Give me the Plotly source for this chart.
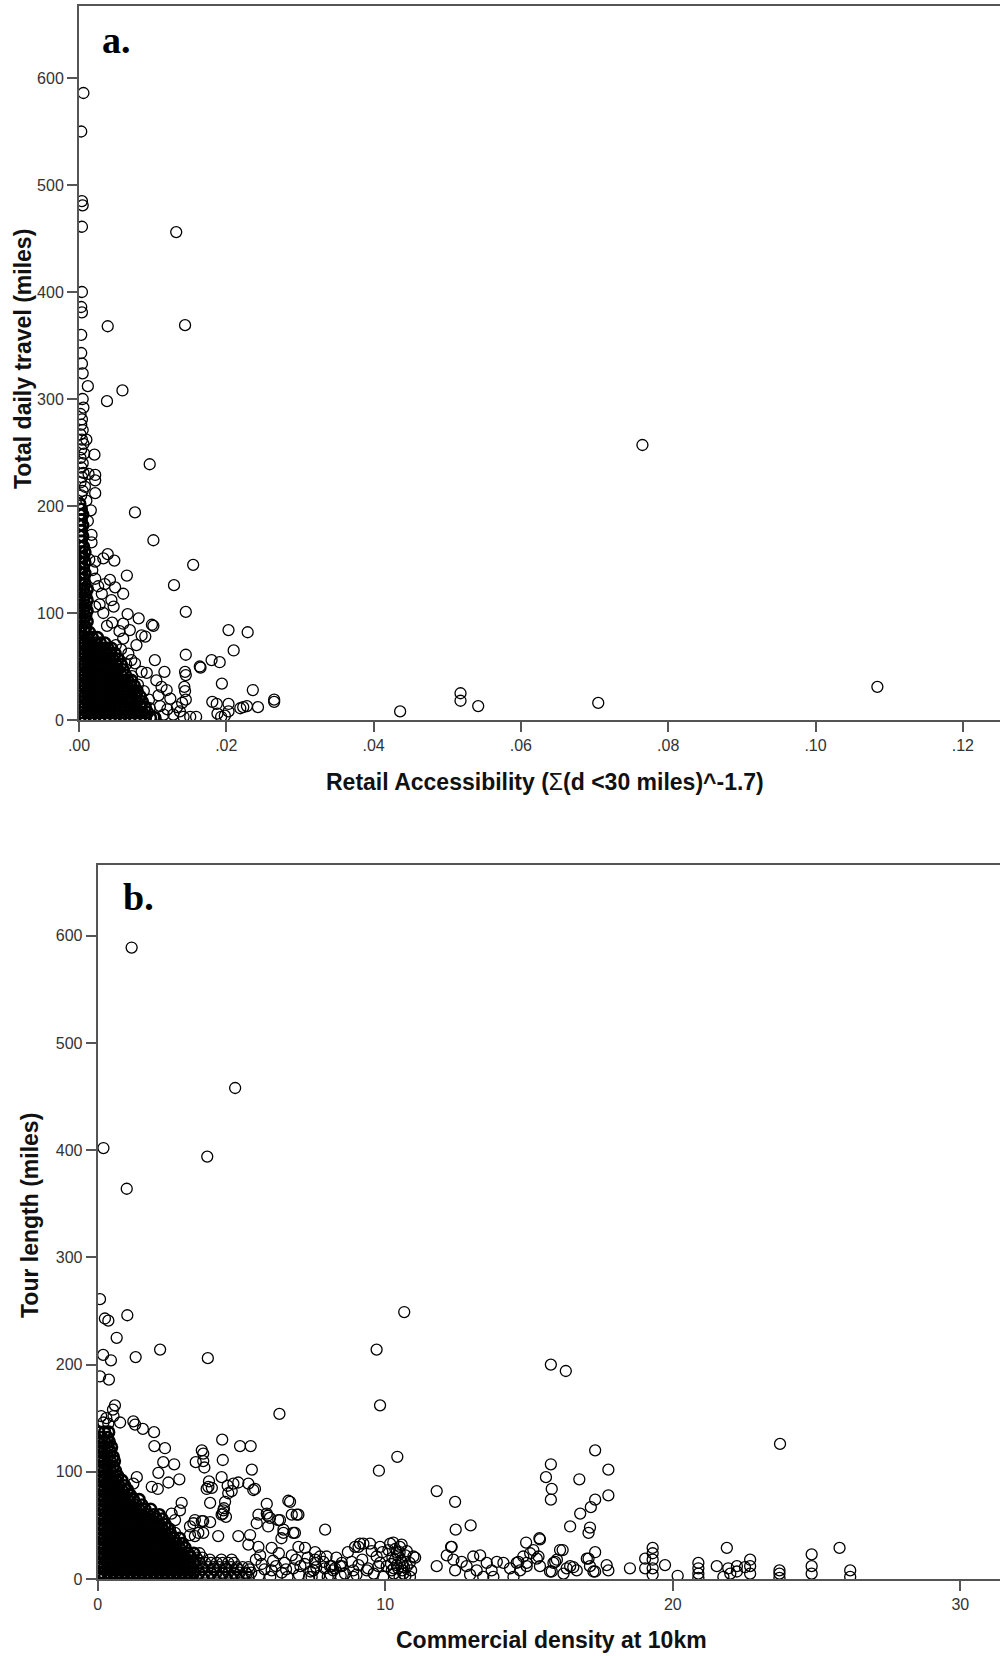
import plotly.graph_objects as go

W, H = 1000, 1656

# ---------------- Panel a data: (Retail accessibility, total daily travel miles) ----------------
a_points = [
    (0.0006, 586), (0.0003, 550), (0.0004, 485), (0.0005, 481), (0.0004, 461), (0.0132, 456),
    (0.0004, 400), (0.0003, 386), (0.0004, 381), (0.0039, 368), (0.0144, 369), (0.0003, 360),
    (0.0003, 343), (0.0004, 333), (0.0005, 324), (0.0012, 312), (0.0059, 308), (0.0038, 298),
    (0.0005, 300), (0.0006, 292), (0.0002, 286), (0.0004, 281), (0.0003, 276), (0.0005, 271),
    (0.0002, 267), (0.0004, 262), (0.0006, 258), (0.0003, 253), (0.0007, 249), (0.0002, 245),
    (0.0005, 240), (0.0003, 236), (0.0006, 231), (0.0004, 227), (0.0002, 222), (0.0008, 218),
    (0.0005, 214), (0.0003, 210), (0.0021, 248), (0.0096, 239), (0.0022, 229), (0.0022, 224),
    (0.0022, 212), (0.0076, 194), (0.0101, 168), (0.0017, 173), (0.0017, 166), (0.0155, 145),
    (0.0039, 155), (0.0033, 151), (0.0048, 149), (0.0065, 135), (0.0129, 126), (0.0145, 101),
    (0.0022, 132), (0.0042, 131), (0.0049, 124), (0.0031, 118), (0.0060, 118), (0.0044, 112),
    (0.0022, 106), (0.0047, 106), (0.0033, 100), (0.0066, 99), (0.0081, 95), (0.0060, 90),
    (0.0038, 88), (0.0101, 88), (0.0099, 89), (0.0069, 84), (0.0090, 78), (0.0085, 79),
    (0.0078, 70), (0.0067, 62), (0.0076, 53), (0.0103, 56), (0.0092, 44), (0.0105, 37),
    (0.0119, 28), (0.0124, 20), (0.0108, 23), (0.0133, 12), (0.0096, 11), (0.0115, 5),
    (0.0128, 5), (0.0101, 3), (0.0203, 84), (0.0229, 82), (0.0210, 65), (0.0145, 61),
    (0.0180, 56), (0.0191, 54), (0.0164, 50), (0.0165, 49), (0.0144, 45), (0.0145, 42),
    (0.0143, 31), (0.0144, 27), (0.0145, 19), (0.0116, 45), (0.0194, 34), (0.0236, 28),
    (0.0265, 19), (0.0265, 17), (0.0243, 12), (0.0223, 12), (0.0228, 13), (0.0219, 11),
    (0.0203, 15), (0.0203, 8), (0.0198, 4), (0.0193, 3), (0.0188, 6), (0.0187, 15),
    (0.0181, 17), (0.0159, 3), (0.0151, 3), (0.0142, 3),
    (0.0436, 8), (0.0518, 25), (0.0518, 18), (0.0542, 13), (0.0705, 16), (0.0765, 257), (0.1084, 31),
    (0.0050, 70), (0.0057, 66), (0.0064, 52), (0.0072, 41), (0.0080, 33), (0.0088, 27),
    (0.0095, 19), (0.0110, 13), (0.0112, 31), (0.0120, 10), (0.0137, 8), (0.0140, 16),
    (0.0085, 45), (0.0071, 56), (0.0060, 76), (0.0055, 83), (0.0045, 91), (0.0028, 108),
    (0.0026, 125), (0.0035, 127), (0.0018, 140), (0.0014, 150), (0.0012, 186), (0.0016, 196),
    (0.0010, 205), (0.0013, 230), (0.0010, 262), (0.0022, 148),
]

# dense cloud of panel a, row by row: (miles, [accessibility values])
a_cloud_rows = [
    (2, [0.0001, 0.0008, 0.0015, 0.0021, 0.0028, 0.0035, 0.0042, 0.0049, 0.0056, 0.0062, 0.0069, 0.0076, 0.0083, 0.0090, 0.0097, 0.0103]),
    (7, [0.0004, 0.0011, 0.0018, 0.0025, 0.0031, 0.0038, 0.0045, 0.0052, 0.0059, 0.0066, 0.0073, 0.0080, 0.0086, 0.0093]),
    (12, [0.0001, 0.0008, 0.0014, 0.0021, 0.0028, 0.0035, 0.0042, 0.0049, 0.0055, 0.0062, 0.0069, 0.0076, 0.0083, 0.0090]),
    (17, [0.0004, 0.0011, 0.0018, 0.0024, 0.0031, 0.0038, 0.0045, 0.0052, 0.0059, 0.0066, 0.0072, 0.0079, 0.0086]),
    (22, [0.0001, 0.0008, 0.0015, 0.0022, 0.0028, 0.0035, 0.0042, 0.0049, 0.0056, 0.0063, 0.0070, 0.0077, 0.0083]),
    (27, [0.0004, 0.0011, 0.0018, 0.0025, 0.0032, 0.0039, 0.0046, 0.0052, 0.0059, 0.0066, 0.0073, 0.0079]),
    (32, [0.0001, 0.0008, 0.0015, 0.0022, 0.0029, 0.0036, 0.0042, 0.0049, 0.0056, 0.0063, 0.0070, 0.0075]),
    (37, [0.0004, 0.0011, 0.0018, 0.0025, 0.0032, 0.0039, 0.0046, 0.0053, 0.0060, 0.0066, 0.0071]),
    (42, [0.0001, 0.0008, 0.0015, 0.0022, 0.0029, 0.0036, 0.0043, 0.0050, 0.0057, 0.0063]),
    (47, [0.0004, 0.0011, 0.0018, 0.0025, 0.0032, 0.0039, 0.0046, 0.0053, 0.0060]),
    (52, [0.0001, 0.0008, 0.0015, 0.0022, 0.0029, 0.0036, 0.0043, 0.0050, 0.0057]),
    (57, [0.0004, 0.0011, 0.0018, 0.0025, 0.0032, 0.0039, 0.0046, 0.0053]),
    (62, [0.0001, 0.0008, 0.0015, 0.0022, 0.0029, 0.0036, 0.0043, 0.0049]),
    (67, [0.0004, 0.0011, 0.0018, 0.0025, 0.0032, 0.0039, 0.0044]),
    (72, [0.0001, 0.0008, 0.0015, 0.0022, 0.0029, 0.0035]),
    (77, [0.0004, 0.0011, 0.0018, 0.0025]),
    (82, [0.0001, 0.0008, 0.0014]),
    (87, [0.0003, 0.0009]),
    (92, [0.0001, 0.0006, 0.0011]),
    (97, [0.0003, 0.0009]),
    (102, [0.0001, 0.0006, 0.0011]),
    (107, [0.0003, 0.0009]),
    (112, [0.0001, 0.0006, 0.0011]),
    (117, [0.0003, 0.0009]),
    (122, [0.0001, 0.0006, 0.0011]),
    (127, [0.0003, 0.0008]),
    (132, [0.0001, 0.0006]),
    (137, [0.0003, 0.0008]),
    (142, [0.0001, 0.0006]),
    (147, [0.0003, 0.0008]),
    (152, [0.0001, 0.0006]),
    (157, [0.0003, 0.0008]),
    (162, [0.0001, 0.0006]),
    (167, [0.0003]),
    (172, [0.0001, 0.0005]),
    (177, [0.0003]),
    (182, [0.0001, 0.0005]),
    (187, [0.0003]),
    (192, [0.0001, 0.0005]),
    (197, [0.0003]),
    (202, [0.0001]),
]

# ---------------- Panel b data: (commercial density at 10km, tour length miles) ----------------
b_points = [
    (1.18, 589), (4.78, 458), (0.20, 402), (3.81, 394), (1.01, 364), (0.08, 261), (1.03, 246),
    (10.66, 249), (0.25, 243), (0.37, 241), (0.66, 225), (0.19, 209), (0.46, 204), (1.32, 207),
    (2.17, 214), (3.83, 206), (9.70, 214), (0.08, 189), (0.39, 186), (9.82, 162), (0.60, 162),
    (0.53, 158), (6.32, 154), (9.78, 101), (15.76, 200), (16.28, 194), (23.73, 126), (10.42, 114),
    (11.79, 82), (12.43, 72), (12.45, 46), (12.97, 50), (15.76, 107), (15.59, 95), (15.79, 84),
    (15.76, 74), (16.75, 93), (17.30, 120), (17.76, 102), (17.76, 78), (17.30, 74), (17.15, 67),
    (16.78, 61), (16.43, 49), (17.12, 48), (17.07, 43), (7.91, 46),
    (0.37, 145), (0.78, 146), (1.24, 147), (1.30, 144), (1.57, 140), (1.96, 137), (1.97, 124),
    (2.34, 122), (2.66, 107), (2.28, 109), (2.84, 93), (4.33, 130), (4.35, 111), (4.95, 124),
    (5.32, 124), (5.36, 102), (3.62, 120), (3.67, 110), (3.41, 109), (3.71, 104), (3.67, 117),
    (2.11, 99), (2.46, 90), (2.09, 84), (1.88, 86), (1.36, 95), (1.24, 89),
    (3.87, 91), (3.97, 85), (3.79, 84), (4.31, 95), (4.52, 87), (4.66, 82), (4.89, 90),
    (5.24, 89), (5.47, 84), (4.54, 80), (4.72, 89), (5.41, 83), (3.85, 86),
    (2.92, 71), (2.86, 64), (2.57, 61), (2.69, 55), (2.51, 47), (2.69, 43),
    (3.91, 71), (4.43, 72), (4.37, 64), (4.31, 60), (4.46, 58), (4.39, 66), (4.35, 61),
    (3.33, 52), (3.67, 54), (3.50, 43), (3.21, 41),
    (5.88, 70), (5.59, 60), (5.91, 59), (5.93, 49), (6.28, 55), (6.63, 73), (6.75, 60),
    (6.92, 60), (6.46, 46), (6.80, 43), (6.39, 38), (6.69, 72), (6.98, 60), (5.88, 61),
    (5.99, 57), (5.53, 52), (6.34, 55), (6.46, 43), (6.86, 43),
    (3.38, 55), (3.21, 49), (3.62, 54), (3.91, 53), (4.19, 40), (3.38, 40), (3.67, 43),
    (4.89, 40), (5.30, 41), (5.24, 32), (5.59, 30), (6.05, 29),
    (6.98, 30), (7.21, 29), (7.56, 25), (7.96, 21), (8.14, 12), (7.56, 15),
    (8.49, 12), (8.83, 16), (9.07, 30), (9.24, 33), (9.47, 33), (9.53, 26), (9.70, 21),
    (9.76, 12), (9.82, 30), (9.07, 13), (8.89, 8),
    (8.95, 30), (9.12, 33), (10.17, 33), (10.51, 30), (10.11, 27), (10.34, 18), (10.75, 12),
    (10.98, 21), (9.82, 15), (10.23, 8), (10.63, 5), (10.86, 2), (9.36, 8), (8.89, 2),
    (9.93, 2), (8.43, 12), (8.19, 8), (8.49, 15), (8.08, 12), (7.73, 21), (7.56, 18),
    (7.50, 8), (7.44, 2), (10.28, 34), (10.57, 32), (11.04, 20), (10.40, 25), (10.60, 15),
    (10.45, 10), (10.30, 5), (10.70, 22), (10.90, 8), (10.20, 14), (10.50, 2),
    (10.35, 28), (10.45, 22), (10.55, 17), (10.65, 11), (10.75, 26), (10.25, 20), (10.85, 15),
    (10.40, 13), (10.60, 8), (10.50, 25), (10.30, 10), (10.70, 3),
    (12.29, 30), (12.14, 22), (11.79, 12), (12.31, 30), (12.37, 18), (12.43, 8), (12.66, 16),
    (12.83, 12), (13.06, 21), (13.30, 22), (13.18, 8), (13.53, 15), (13.70, 8), (13.88, 16),
    (12.95, 4), (13.41, 2), (13.76, 2),
    (14.90, 34), (15.38, 37), (16.17, 27), (17.30, 25), (14.11, 15), (14.34, 10), (14.63, 16),
    (14.69, 8), (14.80, 21), (14.92, 12), (15.04, 24), (15.15, 27), (15.27, 19), (15.36, 38),
    (15.38, 12), (15.73, 7), (15.85, 15), (15.97, 18), (16.08, 27), (16.20, 5), (16.31, 10),
    (16.43, 12), (16.66, 8), (17.07, 19), (17.12, 12), (17.30, 7), (17.70, 13), (17.76, 8),
    (18.51, 10), (14.46, 2), (14.57, 15), (15.91, 16), (15.79, 7), (16.54, 11), (17.01, 19),
    (17.24, 7), (15.33, 21), (14.92, 15),
    (19.30, 29), (19.30, 24), (19.30, 18), (19.30, 10), (19.30, 4), (19.04, 19), (19.04, 10),
    (19.73, 13), (20.17, 3), (20.89, 15), (20.89, 10), (20.89, 5), (20.89, 1), (21.53, 12),
    (21.88, 29), (21.93, 10), (22.00, 5), (21.76, 2), (22.23, 7), (22.23, 12), (22.69, 18),
    (22.69, 12), (22.69, 5), (22.51, 11), (23.71, 8), (23.71, 5), (23.71, 1), (24.83, 23),
    (24.83, 12), (24.83, 5), (25.80, 29), (26.17, 8), (26.17, 2),
    (0.12, 152), (0.20, 146), (0.30, 150), (0.55, 152),
    (5.60, 3), (5.80, 9), (6.00, 2), (6.20, 12), (6.40, 6), (6.60, 2), (6.80, 10), (7.00, 4),
    (7.20, 14), (7.40, 7), (7.70, 3), (7.90, 10), (5.70, 14), (6.10, 17), (6.50, 15), (6.90, 18),
    (7.30, 20), (5.50, 18), (8.10, 4), (8.30, 20), (8.60, 5), (8.70, 25), (9.00, 4), (9.20, 18),
    (9.40, 10), (9.60, 5), (9.90, 25), (10.05, 12),
    (5.65, 22), (6.05, 8), (6.30, 24), (6.55, 9), (6.75, 22), (7.05, 12), (7.35, 2), (7.60, 11),
    (7.85, 16), (8.00, 2), (8.25, 10), (8.45, 3),
]

# dense low band of panel b beyond the solid cloud (3.4 to 5.4), row by row
b_band_rows = [
    (2, [3.44, 3.64, 3.84, 4.04, 4.24, 4.44, 4.64, 4.84, 5.04, 5.24]),
    (5, [3.52, 3.95, 4.36, 4.78, 5.18]),
    (6, [3.54, 3.74, 3.94, 4.14, 4.34, 4.54, 4.74, 4.94, 5.14, 5.34]),
    (9, [3.62, 4.05, 4.47, 4.88, 5.28]),
    (11, [3.44, 3.64, 3.84, 4.04, 4.24, 4.44, 4.64, 4.84, 5.04, 5.24]),
    (15, [3.54, 3.74, 3.94, 4.14, 4.34, 4.54, 4.74]),
    (18, [3.48, 3.90, 4.30, 4.66]),
    (20, [3.44, 3.64]),
    (24, [3.54]),
]

# solid cloud of panel b, row by row: (miles, [density values])
b_cloud_rows = [
    (2, [0.04, 0.24, 0.44, 0.64, 0.84, 1.04, 1.24, 1.44, 1.64, 1.84, 2.04, 2.24, 2.44, 2.64, 2.84, 3.04, 3.24]),
    (6, [0.14, 0.34, 0.54, 0.74, 0.94, 1.14, 1.34, 1.54, 1.74, 1.94, 2.14, 2.34, 2.54, 2.74, 2.94, 3.14, 3.34]),
    (11, [0.04, 0.24, 0.44, 0.64, 0.84, 1.04, 1.24, 1.44, 1.64, 1.84, 2.04, 2.24, 2.44, 2.64, 2.84, 3.04, 3.24]),
    (15, [0.14, 0.34, 0.54, 0.74, 0.94, 1.14, 1.34, 1.54, 1.74, 1.94, 2.14, 2.34, 2.54, 2.74, 2.94, 3.14, 3.34]),
    (20, [0.04, 0.24, 0.44, 0.64, 0.84, 1.04, 1.24, 1.44, 1.64, 1.84, 2.04, 2.24, 2.44, 2.64, 2.84, 3.04, 3.24]),
    (24, [0.14, 0.34, 0.54, 0.74, 0.94, 1.14, 1.34, 1.54, 1.74, 1.94, 2.14, 2.34, 2.54, 2.74, 2.94, 3.14, 3.34]),
    (29, [0.04, 0.24, 0.44, 0.64, 0.84, 1.04, 1.24, 1.44, 1.64, 1.84, 2.04, 2.24, 2.44, 2.64, 2.84, 3.04]),
    (33, [0.14, 0.34, 0.54, 0.74, 0.94, 1.14, 1.34, 1.54, 1.74, 1.94, 2.14, 2.34, 2.54, 2.74, 2.94]),
    (38, [0.04, 0.24, 0.44, 0.64, 0.84, 1.04, 1.24, 1.44, 1.64, 1.84, 2.04, 2.24, 2.44, 2.64, 2.84]),
    (42, [0.14, 0.34, 0.54, 0.74, 0.94, 1.14, 1.34, 1.54, 1.74, 1.94, 2.14, 2.34, 2.54]),
    (47, [0.04, 0.24, 0.44, 0.64, 0.84, 1.04, 1.24, 1.44, 1.64, 1.84, 2.04, 2.24, 2.44]),
    (51, [0.14, 0.34, 0.54, 0.74, 0.94, 1.14, 1.34, 1.54, 1.74, 1.94, 2.14, 2.34]),
    (56, [0.04, 0.24, 0.44, 0.64, 0.84, 1.04, 1.24, 1.44, 1.64, 1.84, 2.04, 2.24]),
    (60, [0.14, 0.34, 0.54, 0.74, 0.94, 1.14, 1.34, 1.54, 1.74, 1.94, 2.14]),
    (65, [0.04, 0.24, 0.44, 0.64, 0.84, 1.04, 1.24, 1.44, 1.64, 1.84]),
    (69, [0.14, 0.34, 0.54, 0.74, 0.94, 1.14, 1.34, 1.54]),
    (74, [0.04, 0.24, 0.44, 0.64, 0.84, 1.04, 1.24, 1.44]),
    (78, [0.14, 0.34, 0.54, 0.74, 0.94, 1.14]),
    (83, [0.04, 0.24, 0.44, 0.64, 0.84, 1.04]),
    (87, [0.14, 0.34, 0.54, 0.74, 0.94]),
    (92, [0.04, 0.24, 0.44, 0.64, 0.84]),
    (96, [0.14, 0.34, 0.54, 0.70]),
    (101, [0.04, 0.24, 0.44, 0.62]),
    (105, [0.14, 0.34, 0.54]),
    (110, [0.04, 0.24, 0.44, 0.58]),
    (114, [0.14, 0.34, 0.54]),
    (119, [0.04, 0.24, 0.44]),
    (123, [0.14, 0.34, 0.48]),
    (128, [0.04, 0.24, 0.40]),
    (132, [0.14, 0.34]),
    (137, [0.04, 0.24, 0.38]),
]

a_xticks = [0.0, 0.02, 0.04, 0.06, 0.08, 0.10, 0.12]
a_xticklabels = [".00", ".02", ".04", ".06", ".08", ".10", ".12"]
b_xticks = [0, 10, 20, 30]
y_ticks = [0, 100, 200, 300, 400, 500, 600]


def split(points):
    return [p[0] for p in points], [p[1] for p in points]


def unroll(rows):
    xs, ys = [], []
    for yv, xrow in rows:
        for xv in xrow:
            xs.append(xv)
            ys.append(yv)
    return xs, ys


ax, ay = split(a_points)
acx, acy = unroll(a_cloud_rows)
bx, by = split(b_points)
bbx, bby = unroll(b_band_rows)
bcx, bcy = unroll(b_cloud_rows)

ring = dict(symbol="circle-open", size=11, color="black", line=dict(width=1.3, color="black"))
ring_dense = dict(symbol="circle-open", size=11, color="black", line=dict(width=2.6, color="black"))

fig = go.Figure()
for xs, ys, mk, xa, ya in [
    (acx, acy, ring_dense, "x", "y"),
    (ax, ay, ring, "x", "y"),
    (bcx, bcy, ring_dense, "x2", "y2"),
    (bbx, bby, ring, "x2", "y2"),
    (bx, by, ring, "x2", "y2"),
]:
    fig.add_trace(go.Scatter(x=xs, y=ys, mode="markers", marker=mk, xaxis=xa, yaxis=ya,
                             cliponaxis=True, hoverinfo="skip"))

AX_COL = "#555555"
tickfont = dict(family="Liberation Sans, Arial, sans-serif", size=16, color="#333333")
common = dict(showgrid=False, zeroline=False, showline=True, linewidth=2, linecolor=AX_COL,
              ticks="outside", ticklen=10, tickwidth=2, tickcolor=AX_COL, tickfont=tickfont,
              automargin=False)


def py(p):
    return 1 - p / H


fig.update_layout(
    template="none",
    width=W, height=H, margin=dict(l=0, r=0, t=0, b=0, pad=0),
    paper_bgcolor="white", plot_bgcolor="white", showlegend=False,
    xaxis=dict(domain=[79 / W, 1], range=[0, 0.12505], tickvals=a_xticks, ticktext=a_xticklabels,
               mirror=True, anchor="y", **common),
    yaxis=dict(domain=[py(720), py(6)], range=[0, 667.3], tickvals=y_ticks, anchor="x", **common),
    xaxis2=dict(domain=[97.7 / W, 1], range=[0, 31.38], tickvals=b_xticks, mirror=True, anchor="y2", **common),
    yaxis2=dict(domain=[py(1579), py(865)], range=[0, 666], tickvals=y_ticks, anchor="x2", **common),
)

title_font = dict(family="Liberation Sans, Arial, sans-serif", size=23, color="#111111", weight="bold")
label_font = dict(family="Liberation Serif, Times New Roman, serif", size=38, color="black", weight="bold")

annots = [
    dict(text="a.", x=100 / W, y=py(40), xanchor="left", yanchor="middle", font=label_font),
    dict(text="b.", x=121 / W, y=py(897), xanchor="left", yanchor="middle", font=label_font),
    dict(text="Retail Accessibility (<span style='font-weight:normal'>Σ</span>(d &lt;30 miles)^-1.7)",
         x=545 / W, y=py(782), xanchor="center", yanchor="middle", font=title_font),
    dict(text="Total daily travel (miles)", x=23 / W, y=py(359), xanchor="center", yanchor="middle",
         textangle=-90, font=title_font),
    dict(text="Commercial density at 10km", x=551 / W, y=py(1640), xanchor="center", yanchor="middle",
         font=title_font),
    dict(text="Tour length (miles)", x=30 / W, y=py(1216), xanchor="center", yanchor="middle",
         textangle=-90, font=title_font),
]
for a in annots:
    a.update(xref="paper", yref="paper", showarrow=False)
fig.update_layout(annotations=annots)

fig.write_html("out.html")
